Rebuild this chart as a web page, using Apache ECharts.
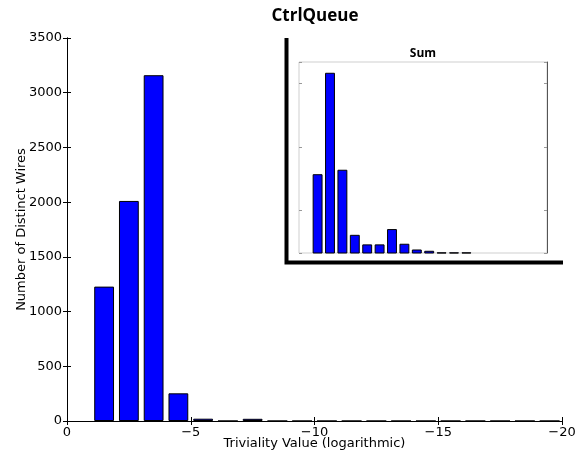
<!DOCTYPE html>
<html>
<head>
<meta charset="utf-8">
<script src="https://cdn.jsdelivr.net/npm/echarts@6/dist/echarts.min.js"></script>
<style>
  html, body { margin: 0; padding: 0; background: #fff; }
  #main { width: 582px; height: 455px; }
</style>
</head>
<body>
<div id="main"></div>
<script>
// bin centres (log triviality value)
var binCenters = [-1.5, -2.5, -3.5, -4.5, -5.5, -6.5, -7.5, -8.5, -9.5, -10.5,
  -11.5, -12.5, -13.5, -14.5, -15.5, -16.5, -17.5, -18.5, -19.5];
// main histogram: number of distinct wires per bin
var wireCounts = [1228, 2011, 3160, 253, 21, 0, 20, 0, 0, 0,
  0, 0, 0, 0, 0, 0, 0, 0, 0];
// inset "Sum" histogram (unlabelled axis, arbitrary units)
var sumValues = [1.57, 3.16, 1.64, 0.62, 0.47, 0.47, 0.71, 0.48, 0.39, 0.37,
  0.345, 0.345, 0.345];

function pairs(xs, ys) {
  var out = [];
  for (var i = 0; i < ys.length; i++) {
    out.push([xs[i], ys[i]]);
  }
  return out;
}

function minusLabel(v) {
  return v < 0 ? '\u2212' + (-v) : String(v);
}

var font = 'DejaVu Sans';
var black = '#000';

var myChart = echarts.init(document.getElementById('main'));

var option = {
  backgroundColor: '#fff',
  animation: false,
  title: [{
    text: 'CtrlQueue',
    left: 310, top: 3, textAlign: 'center',
    textStyle: { fontFamily: 'Open Sans', fontWeight: 'bold', fontSize: 17, color: black }
  }, {
    text: 'Sum',
    left: 418, top: 43, textAlign: 'center',
    textStyle: { fontFamily: 'Open Sans', fontWeight: 'bold', fontSize: 12, color: black }
  }],
  grid: [
    { left: 67, right: 20, top: 38, bottom: 34, show: false, outerBoundsMode: 'none', containLabel: false },
    { left: 299, right: 35, top: 62, bottom: 202, show: true, backgroundColor: '#fff',
      borderColor: '#cfcfcf', borderWidth: 1, outerBoundsMode: 'none', containLabel: false }
  ],
  xAxis: [{
    gridIndex: 0, type: 'value', position: 'bottom',
    min: -20, max: 0, interval: 5, inverse: true,
    axisLine: { lineStyle: { color: black, width: 1 } },
    axisTick: { inside: true, length: 4, lineStyle: { color: black } },
    axisLabel: { formatter: minusLabel, fontFamily: font, fontSize: 13, color: black, margin: 5 },
    splitLine: { show: false },
    name: 'Triviality Value (logarithmic)', nameLocation: 'middle', nameGap: 16,
    nameMoveOverlap: false,
    nameTextStyle: { fontFamily: font, fontSize: 13, color: black }
  }, {
    gridIndex: 0, type: 'value', position: 'top',
    min: -20, max: 0, interval: 5, inverse: true,
    axisLine: { lineStyle: { color: black, width: 1 } },
    axisTick: { inside: true, length: 4, lineStyle: { color: black } },
    axisLabel: { show: false },
    splitLine: { show: false }
  }, {
    gridIndex: 1, type: 'value', position: 'bottom',
    min: -20, max: 0, inverse: true,
    axisLine: { show: false }, axisTick: { show: false },
    axisLabel: { show: false }, splitLine: { show: false }
  }],
  yAxis: [{
    gridIndex: 0, type: 'value', position: 'left',
    min: 0, max: 3500, interval: 500,
    axisLine: { show: true, lineStyle: { color: black, width: 1 } },
    axisTick: { show: true, inside: true, length: 4, lineStyle: { color: black } },
    axisLabel: { formatter: minusLabel, fontFamily: font, fontSize: 13, color: black, margin: 5 },
    splitLine: { show: false },
    name: 'Number of Distinct Wires', nameLocation: 'middle', nameGap: 39,
    nameMoveOverlap: false,
    nameTextStyle: { fontFamily: font, fontSize: 13, color: black }
  }, {
    gridIndex: 0, type: 'value', position: 'right',
    min: 0, max: 3500, interval: 500,
    axisLine: { show: true, lineStyle: { color: black, width: 1 } },
    axisTick: { show: true, inside: true, length: 4, lineStyle: { color: black } },
    axisLabel: { show: false },
    splitLine: { show: false }
  }, {
    gridIndex: 1, type: 'value', position: 'left',
    min: 0.335, max: 3.329, splitNumber: 3,
    axisLine: { show: false },
    axisTick: { show: true, inside: true, length: 3, lineStyle: { color: '#999' } },
    axisLabel: { show: false },
    splitLine: { show: false }
  }, {
    gridIndex: 1, type: 'value', position: 'right',
    min: 0.335, max: 3.329, splitNumber: 3,
    axisLine: { show: true, lineStyle: { color: '#555', width: 1 } },
    axisTick: { show: true, inside: true, length: 3, lineStyle: { color: '#999' } },
    axisLabel: { show: false },
    splitLine: { show: false }
  }],
  series: [{
    type: 'bar',
    xAxisIndex: 0, yAxisIndex: 0,
    barWidth: 19.8,
    data: pairs(binCenters, wireCounts),
    itemStyle: { color: '#0000ff', borderColor: black, borderWidth: 1 }
  }, {
    type: 'bar',
    xAxisIndex: 2, yAxisIndex: 2,
    barWidth: 9.9,
    data: pairs(binCenters, sumValues),
    itemStyle: { color: '#0000ff', borderColor: black, borderWidth: 1 },
    z: 5
  }],
  graphic: [{
    type: 'polyline',
    shape: { points: [[286.5, 38], [286.5, 262.5], [563, 262.5]] },
    style: { stroke: black, lineWidth: 4, fill: null, lineJoin: 'miter' },
    z: 10
  }]
};

myChart.setOption(option);
</script>
</body>
</html>
